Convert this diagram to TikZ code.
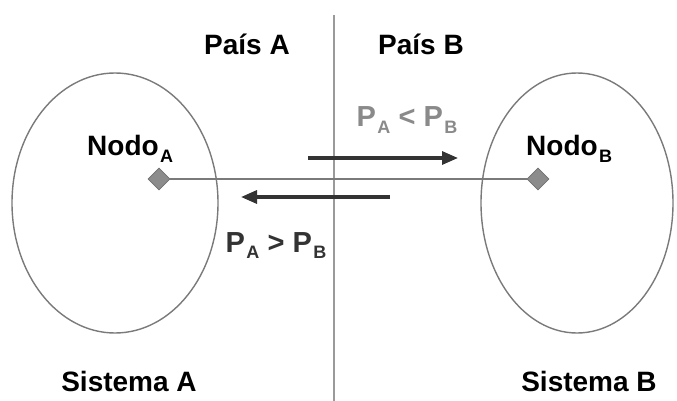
\documentclass[tikz,border=0pt]{standalone}
\usepackage{fontspec}
\setmainfont{Liberation Sans}
\usetikzlibrary{shapes.geometric,arrows.meta}
\definecolor{linegray}{HTML}{7A7A7A}
\definecolor{divgray}{HTML}{9A9A9A}
\definecolor{dark}{HTML}{333333}
\definecolor{lightlbl}{HTML}{8A8A8A}
\definecolor{diamfill}{HTML}{8C8C8C}
\newcommand{\mysub}[1]{\kern1.5pt\raisebox{-6pt}{\fontsize{18}{19}\selectfont #1}}
\tikzset{
  lbl/.style={font=\fontsize{28}{30}\selectfont\bfseries, text=black, inner sep=0pt},
  cmp/.style={font=\fontsize{29}{31}\selectfont\bfseries, inner sep=0pt},
  nodemark/.style={diamond, draw=diamfill!80!black, fill=diamfill, minimum width=22pt, minimum height=22pt, inner sep=0pt, line width=0.8pt},
  sysellipse/.style={ellipse, draw=linegray, line width=1.4pt, inner sep=0pt},
  flow/.style={draw=dark, line width=3.2pt, -{Triangle[length=16pt,width=13pt]}},
}
\begin{document}
\begin{tikzpicture}[x=1pt,y=-1pt]
\useasboundingbox (0,0) rectangle (677,401);
% divider
\coordinate (dtop) at (334,15);
\coordinate (dbot) at (334,401);
\draw[divgray, line width=2pt] (dtop) -- (dbot);
% systems
\node[sysellipse, minimum width=206pt, minimum height=260pt] (sysA) at (115,203) {};
\node[sysellipse, minimum width=192pt, minimum height=260pt] (sysB) at (577,203) {};
% nodes
\node[nodemark] (nA) at (159,179) {};
\node[nodemark] (nB) at (538,179) {};
\draw[linegray, line width=2pt] (nA.east) -- (nB.west);
% flows
\coordinate (r1) at (308,158);
\coordinate (r2) at (458,158);
\coordinate (l1) at (390,197);
\coordinate (l2) at (241,197);
\draw[flow] (r1) -- (r2);
\draw[flow] (l1) -- (l2);
% labels
\node[lbl, anchor=base] (paisA) at (247,55) {País A};
\node[lbl, anchor=base] (paisB) at (421,55) {País B};
\node[lbl, anchor=base west] (nodoA) at (87,156) {Nodo\mysub{A}};
\node[lbl, anchor=base west] (nodoB) at (526,156) {Nodo\mysub{B}};
\node[cmp, text=lightlbl, anchor=base] (cmpLT) at (407,127) {P\mysub{A} < P\mysub{B}};
\node[cmp, text=dark, anchor=base] (cmpGT) at (276,252) {P\mysub{A} > P\mysub{B}};
\node[lbl, anchor=base] (sisA) at (129,391) {Sistema A};
\node[lbl, anchor=base] (sisB) at (589,391) {Sistema B};
\end{tikzpicture}
\end{document}
